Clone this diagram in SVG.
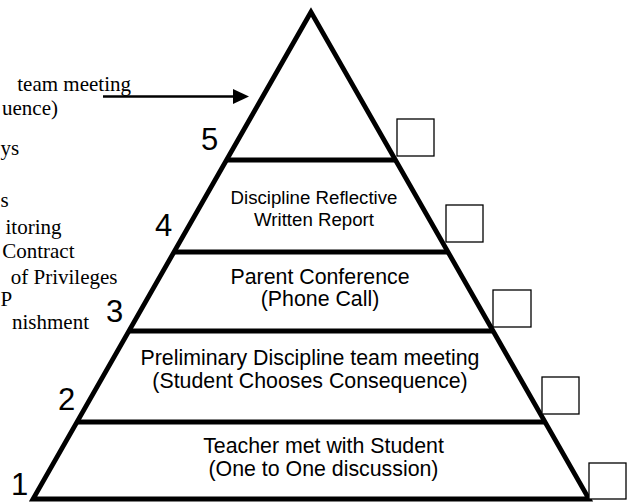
<svg xmlns="http://www.w3.org/2000/svg" width="631" height="502" viewBox="0 0 631 502">
  <style>
    .edge { fill: #fff; stroke: #000; stroke-width: 4.8; stroke-linejoin: miter; }
    .band { stroke: #000; stroke-width: 4.8; }
    .box { fill: #fff; stroke: #000; stroke-width: 1.3; }
    .lbl { font-family: "Liberation Sans", Arial, sans-serif; font-size: 21.33px; fill: #000; text-anchor: middle; }
    .lbl-s { font-family: "Liberation Sans", Arial, sans-serif; font-size: 18.67px; fill: #000; text-anchor: middle; }
    .num { font-family: "Liberation Sans", Arial, sans-serif; font-size: 31px; fill: #000; }
    .side { font-family: "Liberation Serif", "Times New Roman", serif; font-size: 21px; fill: #000; text-anchor: end; }
    .side-l { font-family: "Liberation Serif", "Times New Roman", serif; font-size: 21px; fill: #000; text-anchor: start; }
    .arrow { stroke: #000; stroke-width: 2.7; fill: none; }
  </style>
  <defs>
    <marker id="head" viewBox="0 0 16 16" refX="0" refY="8" markerWidth="16" markerHeight="16" markerUnits="userSpaceOnUse" orient="auto">
      <path d="M0,0.5 L16,8 L0,15.5 Z" fill="#000"/>
    </marker>
  </defs>
  <rect width="631" height="502" fill="#fff"/>

  <g id="side-list">
    <text class="side" x="131" y="90.5">team meeting</text>
    <text class="side" x="58" y="115">uence)</text>
    <text class="side-l" x="0.5" y="155">ys</text>
    <text class="side-l" x="0.5" y="207">s</text>
    <text class="side" x="61.5" y="234">itoring</text>
    <text class="side" x="74.5" y="258">Contract</text>
    <text class="side" x="117.5" y="284">of Privileges</text>
    <text class="side-l" x="0.5" y="306">P</text>
    <text class="side" x="89" y="329">nishment</text>
  </g>

  <g id="pyramid">
    <polygon class="edge" points="311,12 33,499 589,499"/>
  </g>

  <g id="level5">
    <line class="band" x1="227" y1="160" x2="395" y2="160"/>
    <text class="num" x="201" y="150">5</text>
    <rect class="box" x="397" y="119" width="37" height="37"/>
  </g>

  <g id="level4">
    <line class="band" x1="174" y1="252" x2="448" y2="252"/>
    <text class="lbl-s" x="314" y="204">Discipline Reflective</text>
    <text class="lbl-s" x="314" y="226">Written Report</text>
    <text class="num" x="155" y="236">4</text>
    <rect class="box" x="446" y="205" width="37" height="37"/>
  </g>

  <g id="level3">
    <line class="band" x1="129" y1="331" x2="493" y2="331"/>
    <text class="lbl" x="320" y="284">Parent Conference</text>
    <text class="lbl" x="320" y="306">(Phone Call)</text>
    <text class="num" x="106" y="322">3</text>
    <rect class="box" x="493" y="290" width="38" height="37"/>
  </g>

  <g id="level2">
    <line class="band" x1="77" y1="422" x2="545" y2="422"/>
    <text class="lbl" x="310" y="365">Preliminary Discipline team meeting</text>
    <text class="lbl" x="310" y="388">(Student Chooses Consequence)</text>
    <text class="num" x="58" y="410">2</text>
    <rect class="box" x="542" y="377" width="37" height="37"/>
  </g>

  <g id="level1">
    <text class="lbl" x="323.5" y="453">Teacher met with Student</text>
    <text class="lbl" x="323.5" y="476">(One to One discussion)</text>
    <text class="num" x="11" y="495">1</text>
    <rect class="box" x="589" y="463" width="37" height="36"/>
  </g>

  <g id="connectors">
    <line class="arrow" x1="103" y1="96.5" x2="233" y2="96.5" marker-end="url(#head)"/>
  </g>
</svg>
